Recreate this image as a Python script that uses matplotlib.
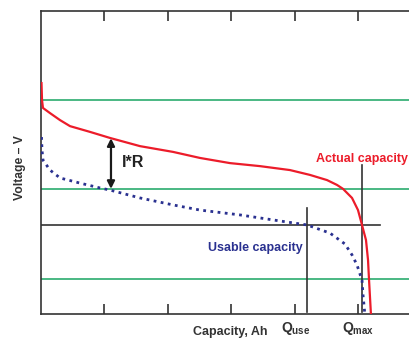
import matplotlib
matplotlib.use("Agg")
import matplotlib.pyplot as plt

plt.rcParams['font.family'] = ['Liberation Sans', 'DejaVu Sans']
plt.rcParams['mathtext.fontset'] = 'custom'
plt.rcParams['mathtext.rm'] = 'Liberation Sans'
plt.rcParams['mathtext.bf'] = 'Liberation Sans:bold'

# Actual capacity curve (capacity, voltage)
actual_cap = [0.008, 0.016, 0.031, 0.142, 0.299, 0.457, 0.772, 1.087, 1.559, 2.079,
              2.504, 2.976, 3.449, 3.921, 4.236, 4.504, 4.661, 4.756, 4.898, 4.992,
              5.055, 5.118, 5.150, 5.165, 5.197]
actual_v = [7.62, 7.06, 6.80, 6.63, 6.40, 6.20, 6.01, 5.81, 5.54, 5.35,
            5.15, 4.98, 4.88, 4.75, 4.59, 4.42, 4.26, 4.13, 3.83, 3.43,
            2.94, 2.44, 1.78, 1.16, -0.05]

# Usable capacity curve
usable_cap = [0.008, 0.016, 0.031, 0.142, 0.299, 0.614, 0.929, 1.087, 1.559, 2.079,
              2.504, 3.134, 3.764, 4.189, 4.551, 4.787, 4.898, 4.976, 5.055, 5.071,
              5.102]
usable_v = [5.84, 5.41, 5.08, 4.75, 4.49, 4.32, 4.16, 4.09, 3.83, 3.60,
            3.43, 3.27, 3.07, 2.94, 2.67, 2.31, 1.95, 1.62, 1.12, 0.63,
            -0.05]

green_levels = [7.06, 4.13, 1.16]
cutoff_v = 2.94
q_use = 4.19
q_max = 5.055
x_ticks = [1, 2, 3, 4, 5]

W, H = 410, 339
fig = plt.figure(figsize=(W / 100, H / 100), dpi=100)
ax = fig.add_axes([41 / W, 25 / H, 381 / W, 303 / H])
ax.set_xlim(0, 6)
ax.set_ylim(0, 10)

green = '#3cb27a'
dark = '#333333'
for g in green_levels:
    ax.axhline(g, color=green, lw=1.3, zorder=1)

ax.plot([0, 5.34], [cutoff_v, cutoff_v], color=dark, lw=1.2, zorder=2)
ax.plot([q_use, q_use], [0.07, 3.50], color=dark, lw=1.2, zorder=2)
ax.plot([q_max, q_max], [0.07, 4.92], color=dark, lw=1.2, zorder=2)

ax.plot(actual_cap, actual_v, color='#ec1c2a', lw=1.6, zorder=4)
ax.plot(usable_cap, usable_v, color='#2a3190', lw=2.0, ls=(0, (1, 1.6)), zorder=3)

ax.annotate('', xy=(1.102, 5.80), xytext=(1.102, 4.13),
            arrowprops=dict(arrowstyle='<|-|>', color='#1a1a1a', lw=1.6,
                            mutation_scale=11, shrinkA=0, shrinkB=0), zorder=5)
ax.text(1.28, 5.0, 'I*R', fontsize=11.5, fontweight='bold', color='#222222',
        va='center', ha='left')
ax.text(4.33, 5.1, 'Actual capacity', fontsize=9, fontweight='bold', color='#ec1c2a',
        va='center', ha='left')
ax.text(2.63, 2.18, 'Usable capacity', fontsize=9, fontweight='bold', color='#2a3190',
        va='center', ha='left')

for s in ['left', 'top', 'bottom']:
    ax.spines[s].set_color(dark)
    ax.spines[s].set_linewidth(1.2)
ax.spines['right'].set_visible(False)
ax.set_xticks(x_ticks)
ax.set_yticks([])
ax.tick_params(axis='x', which='both', direction='in', length=7, width=1.2,
               color=dark, top=True, bottom=True, labelbottom=False, labeltop=False)

fig.text(20 / W, 1 - 168 / H, 'Voltage – V', rotation=90, fontsize=8.7,
         fontweight='bold', color=dark, ha='center', va='center')
fig.text(230 / W, 1 - 332 / H, 'Capacity, Ah', fontsize=9, fontweight='bold',
         color=dark, ha='center', va='center')
fig.text(296 / W, 2 / H, r'$\mathbf{Q}_{\mathbf{use}}$', fontsize=10,
         color=dark, ha='center', va='bottom')
fig.text(358 / W, 2 / H, r'$\mathbf{Q}_{\mathbf{max}}$', fontsize=10,
         color=dark, ha='center', va='bottom')

fig.savefig('out.png', dpi=100, facecolor='white')
